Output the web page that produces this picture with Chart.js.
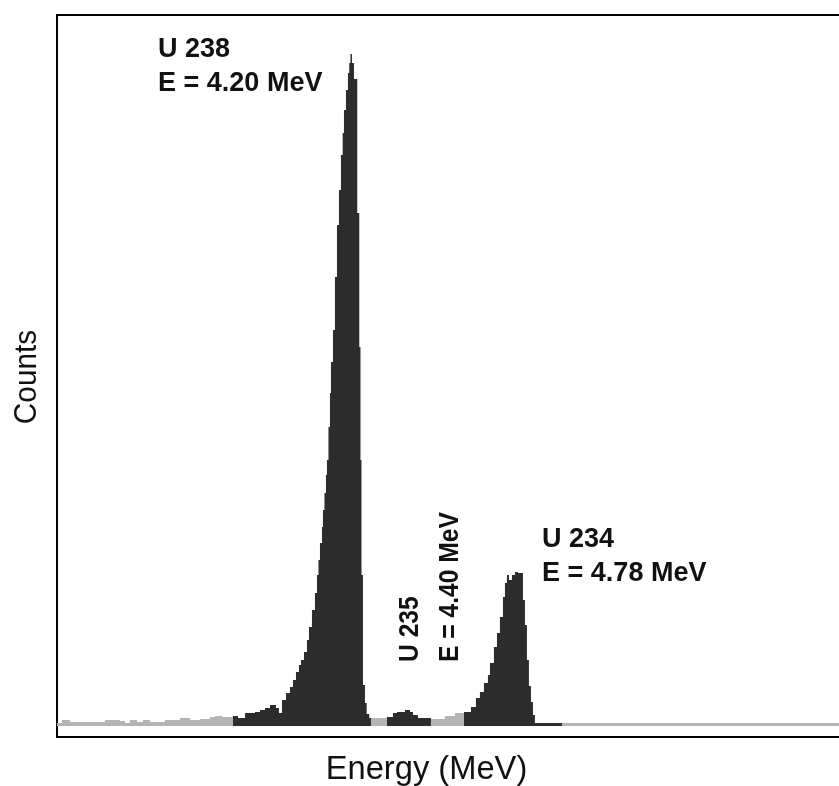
<!DOCTYPE html>
<html>
<head>
<meta charset="utf-8">
<title>Uranium alpha spectrum</title>
<script src="https://cdn.jsdelivr.net/npm/chart.js@4.4.0/dist/chart.umd.min.js"></script>
<style>
  html, body { margin: 0; padding: 0; background: #fff; }
  canvas { display: block; }
</style>
</head>
<body>
<canvas id="chart-goes-here" width="839" height="786"></canvas>
<script>
// histogram bins: start energy (MeV) of each bin and its counts
const binEnergy = [
    3.1680, 3.1856, 3.2137, 3.3367, 3.3894, 3.4070, 3.4246, 3.4492, 3.4703, 3.4949,
    3.5476, 3.6003, 3.6355, 3.6706, 3.7058, 3.7234, 3.7480,
    3.7866, 3.8042, 3.8288, 3.8640, 3.8815, 3.8991, 3.9167, 3.9378, 3.9483, 3.9589,
    3.9729, 3.9870, 3.9975, 4.0081, 4.0186, 4.0256, 4.0362, 4.0467, 4.0538, 4.0643,
    4.0748, 4.0819, 4.0872, 4.0924, 4.0995, 4.1030, 4.1082, 4.1135, 4.1170, 4.1223,
    4.1276, 4.1311, 4.1381, 4.1451, 4.1522, 4.1592, 4.1662, 4.1722, 4.1768, 4.1838,
    4.1908, 4.1954, 4.1996, 4.2049, 4.2120, 4.2235, 4.2306, 4.2348, 4.2383, 4.2436,
    4.2506, 4.2566, 4.2657, 4.2717,
    4.3279, 4.3490, 4.3631, 4.3912, 4.4088, 4.4193, 4.4369, 4.4545,
    4.4826, 4.5318, 4.5669,
    4.5986, 4.6232, 4.6407, 4.6548, 4.6689, 4.6829, 4.6900, 4.7040, 4.7146, 4.7251,
    4.7357, 4.7427, 4.7497, 4.7567, 4.7673, 4.7778, 4.7884, 4.8060, 4.8130, 4.8200,
    4.8270, 4.8341, 4.8411, 4.8481, 4.9430
];
const binCounts = [
    3, 6, 4, 6, 5, 3, 6, 4, 6, 4,
    6, 8, 6, 7, 9, 10, 9,
    10, 8, 13, 14, 16, 18, 21, 18, 13, 26,
    33, 39, 46, 54, 61, 66, 74, 86, 99, 116,
    133, 151, 166, 183, 199, 216, 233, 251, 266, 299,
    333, 364, 396, 449, 501, 536, 571, 593, 616, 636,
    653, 663, 672, 663, 647, 513, 379, 266, 151, 41,
    23, 12, 8, 8,
    9, 13, 14, 16, 14, 11, 8, 8,
    7, 10, 13,
    14, 19, 28, 34, 43, 51, 63, 79, 93, 109,
    129, 143, 151, 146, 151, 154, 153, 126, 101, 66,
    40, 24, 11, 3, 3
];
const energyRange = [3.168, 5.917];
const countRange = [-11, 711];
// regions of interest (MeV), drawn dark
const roiRanges = [[3.7866, 4.2717], [4.3279, 4.4826], [4.5986, 4.9430]];
// peak labels, anchored at (energy, counts)
const peakLabels = [
    { lines: ['U 238', 'E = 4.20 MeV'], energy: 3.523, counts: 669, vertical: false },
    { lines: ['U 234', 'E = 4.78 MeV'], energy: 4.873, counts: 179, vertical: false },
    { lines: ['U 235', 'E = 4.40 MeV'], energy: 4.437, counts: 64, vertical: true }
];

const DARK = '#2c2c2c';
const GREY = '#b4b4b4';

const inRoi = (e) => roiRanges.some(([a, b]) => e >= a - 1e-4 && e < b - 1e-4);

const points = binEnergy.map((e, i) => ({ x: e, y: binCounts[i] }));
// close the last bin at the right end of the axis
points.push({ x: energyRange[1], y: binCounts[binCounts.length - 1] });

const textPlugin = {
    id: 'spectrumText',
    afterDraw(chart) {
        const { ctx, chartArea, scales: { x, y } } = chart;
        ctx.save();
        ctx.fillStyle = '#111';
        ctx.textAlign = 'left';
        ctx.textBaseline = 'alphabetic';
        ctx.font = 'bold 28px "Liberation Sans", Arial, sans-serif';
        for (const lab of peakLabels) {
            ctx.save();
            ctx.translate(x.getPixelForValue(lab.energy), y.getPixelForValue(lab.counts));
            if (lab.vertical) ctx.rotate(-Math.PI / 2);
            ctx.scale(lab.vertical ? 0.88 : 0.965, 1);
            lab.lines.forEach((t, i) => ctx.fillText(t, 0, i * (lab.vertical ? 40 : 34)));
            ctx.restore();
        }

        // axis titles
        ctx.font = '33px "Liberation Sans", Arial, sans-serif';
        ctx.textAlign = 'center';
        ctx.save();
        ctx.translate(chart.width / 2 + 7, chartArea.bottom + 42);
        ctx.scale(0.99, 1);
        ctx.fillText('Energy (MeV)', 0, 0);
        ctx.restore();

        ctx.font = '32px "Liberation Sans", Arial, sans-serif';
        ctx.save();
        ctx.translate(36, (chartArea.top + chartArea.bottom) / 2 + 1);
        ctx.rotate(-Math.PI / 2);
        ctx.scale(0.93, 1);
        ctx.fillText('Counts', 0, 0);
        ctx.restore();
        ctx.restore();
    }
};

const config = {
    type: 'line',
    data: {
        datasets: [{
            data: points,
            stepped: 'before',
            fill: 'origin',
            backgroundColor: GREY,
            borderColor: 'rgba(0,0,0,0)',
            borderWidth: 0,
            pointRadius: 0,
            segment: {
                backgroundColor: ctx => inRoi(ctx.p0.parsed.x) ? DARK : undefined
            }
        }]
    },
    options: {
        responsive: false,
        animation: false,
        layout: { padding: 0 },
        plugins: { legend: { display: false }, tooltip: { enabled: false } },
        scales: {
            x: {
                type: 'linear', position: 'bottom',
                min: energyRange[0], max: energyRange[1],
                ticks: { display: false }, grid: { display: false },
                border: { display: true, color: '#000', width: 2 },
                afterFit: s => { s.height = 49; }
            },
            xTop: {
                type: 'linear', position: 'top',
                min: energyRange[0], max: energyRange[1],
                ticks: { display: false }, grid: { display: false },
                border: { display: true, color: '#000', width: 2 },
                afterFit: s => { s.height = 15; }
            },
            y: {
                type: 'linear', position: 'left',
                min: countRange[0], max: countRange[1],
                ticks: { display: false }, grid: { display: false },
                border: { display: true, color: '#000', width: 2 },
                afterFit: s => { s.width = 57; }
            }
        }
    },
    plugins: [textPlugin]
};

new Chart(document.getElementById('chart-goes-here'), config);
</script>
</body>
</html>
